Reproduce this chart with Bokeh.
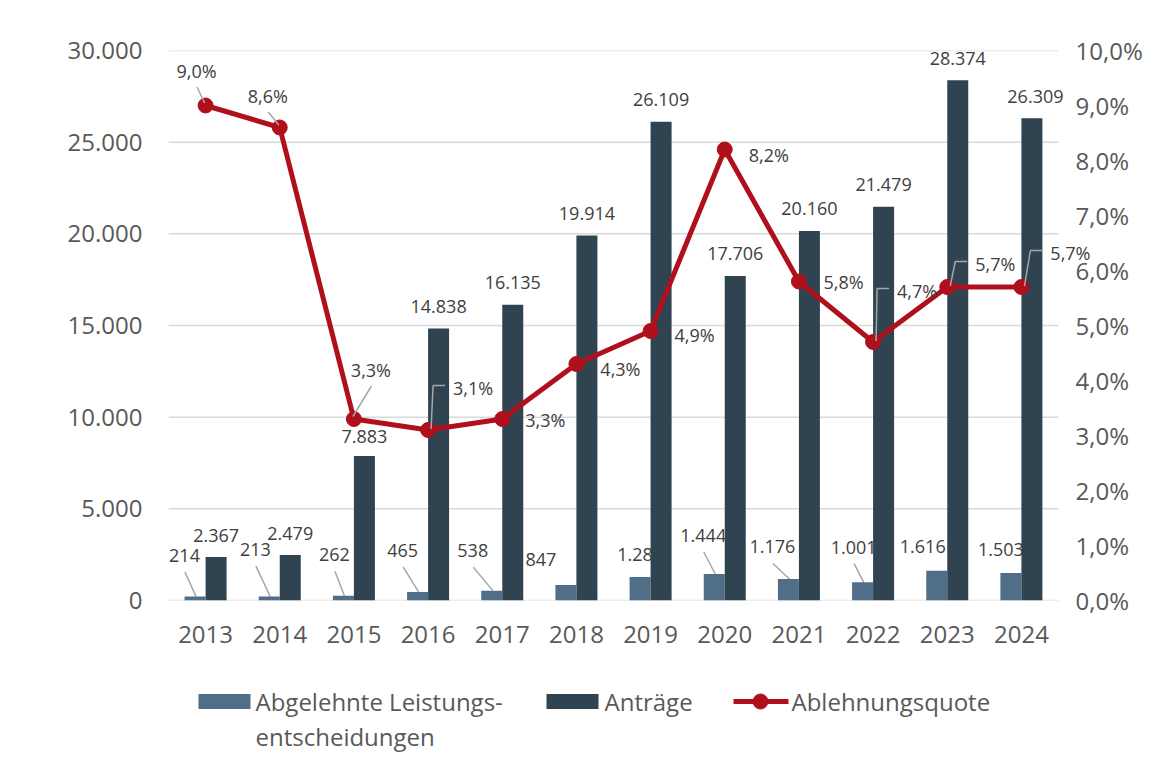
from bokeh.plotting import figure
from bokeh.models import Range1d, LinearAxis, FixedTicker, ColumnDataSource, Label
from bokeh.layouts import column
from bokeh.embed import file_html
from bokeh.resources import INLINE
from bokeh.core.properties import value

# ---------------- data ----------------
years = ["2013", "2014", "2015", "2016", "2017", "2018",
         "2019", "2020", "2021", "2022", "2023", "2024"]
abgelehnt = [214, 213, 262, 465, 538, 847, 1280, 1444, 1176, 1001, 1616, 1503]
antraege = [2367, 2479, 7883, 14838, 16135, 19914, 26109, 17706, 20160, 21479, 28374, 26309]
quote = [9.0, 8.6, 3.3, 3.1, 3.3, 4.3, 4.9, 8.2, 5.8, 4.7, 5.7, 5.7]
left_ticks = [0, 5000, 10000, 15000, 20000, 25000, 30000]
right_ticks = [0, 1, 2, 3, 4, 5, 6, 7, 8, 9, 10]
series_names = ["Abgelehnte Leistungs-\nentscheidungen", "Antr\u00e4ge", "Ablehnungsquote"]

# ---------------- styles / layout ----------------
FONT = "Open Sans"
C_ABG = "#506E87"
C_ANT = "#2F4351"
C_LINE = "#B0101C"
C_LEAD = "#A6A6A6"
C_TXT = "#404040"
C_AX = "#595959"
C_GRID = "#D9D9D9"

W = 1150
B_LEFT, B_RIGHT, B_TOP, B_BOTTOM = 168, 50, 50, 58
FRAME_W, FRAME_H = W - B_LEFT - B_RIGHT, 550
GRID_W = 890                      # plotting area of the categories (168..1058)
PX_X = GRID_W / 12.0
X_END = -0.5 + FRAME_W / PX_X     # frame extends a bit further right so labels are not clipped
PX_L = FRAME_H / 30000.0
PX_R = FRAME_H / 10.0
BAR_W = 21 / PX_X
OFF = 10.5 / PX_X

# label offsets (screen px, + = right / down, relative to bar top / point)
abg_dx = [-10.6, -13.8, -9, -15, -19, -25, 0, -11, -16, -9, -14, -10]
abg_dy = [-41, -47, -41, -41.5, -40, -25.5, -22.5, -38.5, -32, -35, -24.5, -23.5]
abg_lead = [1, 1, 1, 1, 1, 0, 0, 1, 1, 1, 0, 0]
ant_dx = [0, 0, 0, 0, 0, 0, 0, 0, 0, 0, 0, 3.5]
ant_dy = [-22, -22, -19, -22, -22, -22, -22, -22, -22, -22, -22, -22]
q_dx = [-9, -12, 17, 45, 43, 44, 44, 44, 44.6, 44, 48, 49]
q_dy = [-35, -32, -49.5, -42.5, 0.5, 4.5, 3.5, 5, 0, -51.5, -23.5, -34.5]
q_lead = ["s", "s", "s", "e", "", "", "", "", "", "e", "e", "e"]


def de_int(v):
    return f"{v:,}".replace(",", ".")


def de_pct(v):
    return f"{v:.1f}".replace(".", ",") + "%"


idx = list(range(len(years)))
x_abg = [i - OFF for i in idx]
x_ant = [i + OFF for i in idx]

p = figure(width=W, height=B_TOP + FRAME_H + B_BOTTOM, x_range=Range1d(-0.5, X_END),
           y_range=Range1d(0, 30000), toolbar_location=None, output_backend="svg",
           min_border_left=B_LEFT, min_border_right=B_RIGHT,
           min_border_top=B_TOP, min_border_bottom=B_BOTTOM)
p.outline_line_color = None
p.extra_y_ranges = {"pct": Range1d(0, 10)}

# axes
p.xaxis.ticker = FixedTicker(ticks=idx)
p.xaxis.major_label_overrides = {i: y for i, y in zip(idx, years)}
p.xaxis.axis_line_color = None
p.xaxis.major_tick_line_color = None
p.xaxis.minor_tick_line_color = None
p.xaxis.major_tick_out = 0
p.xaxis.major_label_standoff = 25
p.xaxis.major_label_text_font = FONT
p.xaxis.major_label_text_font_size = "24px"
p.xaxis.major_label_text_color = C_AX

p.yaxis.ticker = FixedTicker(ticks=left_ticks)
p.yaxis.major_label_overrides = {t: de_int(t) for t in left_ticks}
p.yaxis.axis_line_color = None
p.yaxis.major_tick_line_color = None
p.yaxis.minor_tick_line_color = None
p.yaxis.major_tick_out = 0
p.yaxis.major_label_standoff = 26
p.yaxis.major_label_text_font = FONT
p.yaxis.major_label_text_font_size = "24px"
p.yaxis.major_label_text_color = C_AX

ax_r = LinearAxis(y_range_name="pct", ticker=FixedTicker(ticks=right_ticks))
ax_r.major_label_overrides = {t: de_pct(t) for t in right_ticks}
ax_r.axis_line_color = None
ax_r.major_tick_line_color = None
ax_r.minor_tick_line_color = None
ax_r.major_tick_out = 0
ax_r.major_label_standoff = (B_LEFT + GRID_W + 17) - (B_LEFT + FRAME_W)
ax_r.major_label_text_font = FONT
ax_r.major_label_text_font_size = "24px"
ax_r.major_label_text_color = C_AX
p.add_layout(ax_r, "right")

p.xgrid.visible = False
p.ygrid.visible = False
# horizontal grid lines (incl. baseline) over the category area only
p.segment(x0=[-0.5] * len(left_ticks), x1=[11.5] * len(left_ticks), y0=left_ticks, y1=left_ticks,
          line_color=C_GRID, line_width=1.5)

# ---- Abgelehnte labels + leaders (drawn first so Anträge bars cover them) ----
src_abg = ColumnDataSource(dict(x=x_abg, y=abgelehnt, t=[de_int(v) for v in abgelehnt],
                                dx=abg_dx, dy=abg_dy))
p.text(x="x", y="y", text="t", x_offset="dx", y_offset="dy", source=src_abg,
       text_font=value(FONT), text_font_size="18px", text_color=C_TXT,
       text_align="center", text_baseline="middle")
lx, ly = [], []
for i in idx:
    if abg_lead[i]:
        lx.append([x_abg[i] + (abg_dx[i] + 0.5) / PX_X, x_abg[i] + 1 / PX_X])
        ly.append([abgelehnt[i] - (abg_dy[i] + 16.5) / PX_L, abgelehnt[i]])
p.multi_line(lx, ly, line_color=C_LEAD, line_width=1.5)

# ---- bars ----
p.vbar(x=x_abg, top=abgelehnt, width=BAR_W, fill_color=C_ABG, line_color=None)
p.vbar(x=x_ant, top=antraege, width=BAR_W, fill_color=C_ANT, line_color=None)

src_ant = ColumnDataSource(dict(x=x_ant, y=antraege, t=[de_int(v) for v in antraege],
                                dx=ant_dx, dy=ant_dy))
p.text(x="x", y="y", text="t", x_offset="dx", y_offset="dy", source=src_ant,
       text_font=value(FONT), text_font_size="18px", text_color=C_TXT,
       text_align="center", text_baseline="middle")

# ---- line ----
p.line(idx, quote, y_range_name="pct", line_color=C_LINE, line_width=5)
p.scatter(idx, quote, y_range_name="pct", size=15, fill_color=C_LINE, line_color=C_LINE)

qx, qy = [], []
for i in idx:
    if q_lead[i] == "s":
        qx.append([i + (q_dx[i] + 0.5) / PX_X, i - 1 / PX_X])
        qy.append([quote[i] - (q_dy[i] + 16.5) / PX_R, quote[i] + 2.5 / PX_R])
    elif q_lead[i] == "e":
        qx.append([i + (q_dx[i] - 28) / PX_X, i + (q_dx[i] - 40) / PX_X, i + 3 / PX_X])
        qy.append([quote[i] - (q_dy[i] - 2) / PX_R, quote[i] - (q_dy[i] - 2) / PX_R,
                   quote[i] + 1 / PX_R])
p.multi_line(qx, qy, y_range_name="pct", line_color=C_LEAD, line_width=1.5)

src_q = ColumnDataSource(dict(x=idx, y=quote, t=[de_pct(v) for v in quote], dx=q_dx, dy=q_dy))
p.text(x="x", y="y", text="t", x_offset="dx", y_offset="dy", source=src_q, y_range_name="pct",
       text_font=value(FONT), text_font_size="18px", text_color=C_TXT,
       text_align="center", text_baseline="middle")

# ---------------- legend figure (x in page pixels, aligned with main frame) ----------------
LG_H = 95
lg = figure(width=W, height=LG_H, x_range=Range1d(B_LEFT, W - B_RIGHT), y_range=Range1d(LG_H, 0),
            toolbar_location=None, output_backend="svg",
            min_border_left=B_LEFT, min_border_right=B_RIGHT, min_border_top=0, min_border_bottom=0)
lg.axis.visible = False
lg.grid.visible = False
lg.outline_line_color = None
row1, row2 = 43, 78
lg.rect(x=[224, 572], y=[row1, row1], width=52, height=15, fill_color=[C_ABG, C_ANT], line_color=None)
lg.line(x=[733, 788], y=[row1, row1], line_color=C_LINE, line_width=5)
lg.scatter(x=[760], y=[row1], size=15, fill_color=C_LINE, line_color=C_LINE)
first_lines = series_names[0].split("\n")
lg.text(x=[255, 255, 604, 791], y=[row1, row2, row1, row1],
        text=[first_lines[0], first_lines[1], series_names[1], series_names[2]],
        text_font=value(FONT), text_font_size="24px", text_color=C_AX,
        text_align="left", text_baseline="middle")

layout = column(p, lg, spacing=0)
open("out.html", "w").write(file_html(layout, INLINE))
